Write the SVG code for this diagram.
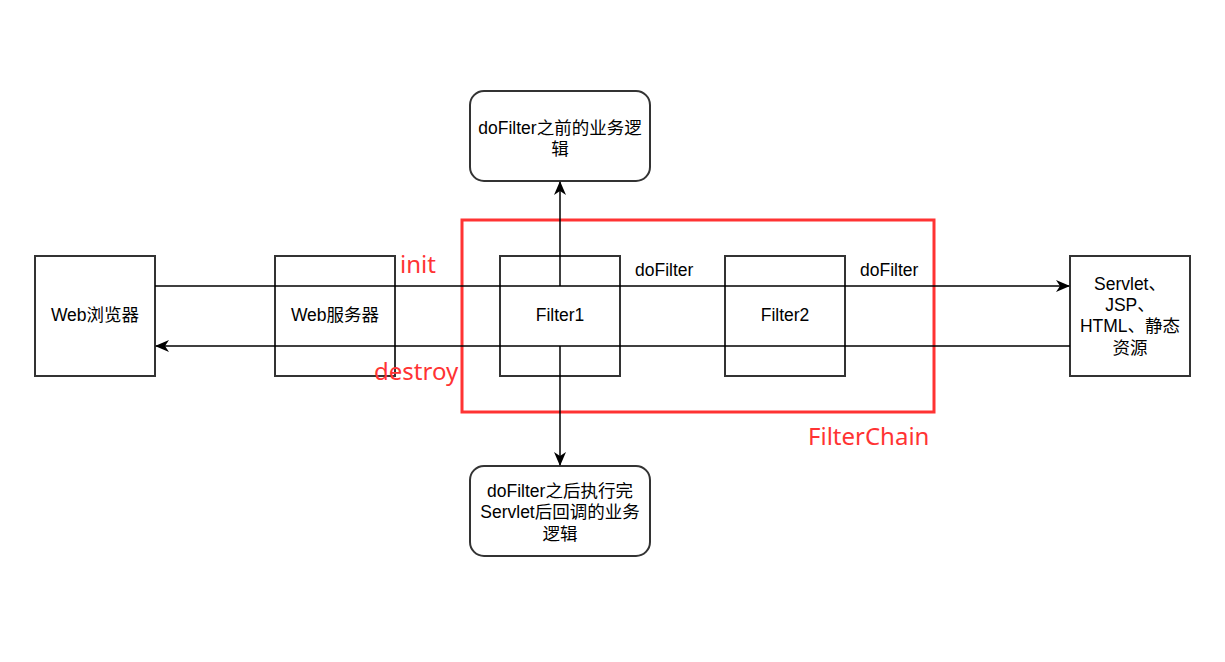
<svg xmlns="http://www.w3.org/2000/svg" width="1225" height="662" viewBox="0 0 1225 662">
<style>
.box{fill:none;stroke:#333;stroke-width:2}
.t{font-family:"Liberation Sans",Arial,"Noto Sans CJK SC",sans-serif;font-size:17.5px;fill:#000;text-anchor:middle}
.lbl{font-family:"Liberation Sans",Arial,sans-serif;font-size:17.5px;fill:#000}
.red{font-family:"Noto Sans","Noto Sans CJK SC",sans-serif;font-size:24px;fill:#FF3333}
.ln{stroke:#000;stroke-width:1.5;fill:none}
</style>
<defs>
<marker id="ah" viewBox="0 0 14 12" refX="13" refY="6" markerWidth="14" markerHeight="12" markerUnits="userSpaceOnUse" orient="auto">
<path d="M0,0 L14,6 L0,12 L4,6 Z" fill="#000"/>
</marker>
</defs>
<rect width="1225" height="662" fill="#fff"/>
<g id="browser"><rect class="box" x="35" y="256" width="120" height="120"/><text class="t" x="95" y="321">Web浏览器</text></g>
<g id="server"><rect class="box" x="275" y="256" width="120" height="120"/><text class="t" x="335" y="321">Web服务器</text></g>
<g id="filter1"><rect class="box" x="500" y="256" width="120" height="120"/><text class="t" x="560" y="321">Filter1</text></g>
<g id="filter2"><rect class="box" x="725" y="256" width="120" height="120"/><text class="t" x="785" y="321">Filter2</text></g>
<g id="servlet"><rect class="box" x="1070" y="256" width="120" height="120"/>
<text class="t" x="1130" y="290">Servlet、</text><text class="t" x="1130" y="311">JSP、</text><text class="t" x="1130" y="332">HTML、静态</text><text class="t" x="1130" y="354">资源</text></g>
<g id="before"><rect class="box" x="470" y="91" width="180" height="90" rx="14"/><text class="t" x="560" y="134">doFilter之前的业务逻</text><text class="t" x="560" y="155">辑</text></g>
<g id="after"><rect class="box" x="470" y="466" width="180" height="90" rx="14"/><text class="t" x="560" y="497">doFilter之后执行完</text><text class="t" x="560" y="518">Servlet后回调的业务</text><text class="t" x="560" y="540">逻辑</text></g>
<g id="filterchain"><rect x="462" y="220" width="472" height="192" fill="none" stroke="#FF3333" stroke-width="3"/><text class="red" x="808" y="445">FilterChain</text></g>
<g id="connectors">
<path class="ln" d="M155,286 L1069,286" marker-end="url(#ah)"/>
<path class="ln" d="M1070,346 L156,346" marker-end="url(#ah)"/>
<path class="ln" d="M560,286 L560,182" marker-end="url(#ah)"/>
<path class="ln" d="M560,346 L560,465" marker-end="url(#ah)"/>
</g>
<g id="labels">
<text class="lbl" x="635" y="276">doFilter</text>
<text class="lbl" x="860" y="276">doFilter</text>
<text class="red" x="400" y="273">init</text>
<text class="red" x="374" y="380">destroy</text>
</g>
</svg>
